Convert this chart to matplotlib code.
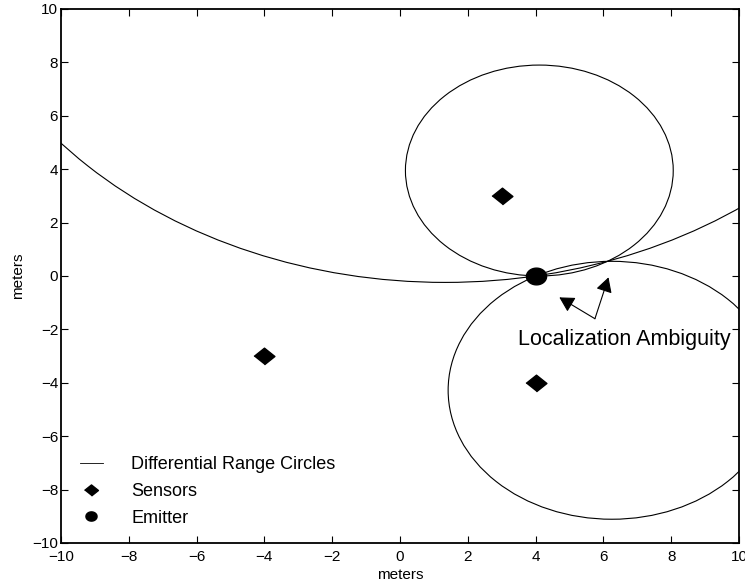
import numpy as np
import matplotlib
matplotlib.use("Agg")
import matplotlib.pyplot as plt
from matplotlib.patches import Circle
from matplotlib.lines import Line2D

plt.rcParams['font.family'] = ['Liberation Sans', 'DejaVu Sans']

# sensor and emitter positions (meters)
sensor_x = [3, -4, 4]
sensor_y = [3, -3, -4]
emitter_x = [4]
emitter_y = [0]

# differential range circles: centres and radii
circle_cx = [4.11, 6.25, 1.33]
circle_cy = [3.95, -4.28, 14.67]
circle_r = [3.95, 4.83, 14.91]

# ambiguity arrows: common tail, two heads
arrow_tail = (5.75, -1.6)
arrow_heads = [(4.7, -0.8), (6.15, -0.05)]
ambig_text = "Localization Ambiguity"
ambig_pos = (3.47, -2.6)

# flattened markers
diamond = [(-1, 0), (0, 0.8), (1, 0), (0, -0.8)]
t = np.linspace(0, 2 * np.pi, 60)
blob = list(zip(np.cos(t), 0.83 * np.sin(t)))

fig = plt.figure(figsize=(7.45, 5.87), dpi=100)
ax = fig.add_axes([61 / 745, 44 / 587, 678 / 745, 534 / 587])

for cx, cy, r in zip(circle_cx, circle_cy, circle_r):
    ax.add_patch(Circle((cx, cy), r, fill=False, color='k', lw=0.8))

ax.plot(sensor_x, sensor_y, ls='none', marker=diamond, ms=15, color='k')
ax.plot(emitter_x, emitter_y, ls='none', marker=blob, ms=14.5, color='k')

for hx, hy in arrow_heads:
    ax.annotate('', xy=(hx, hy), xytext=arrow_tail,
                arrowprops=dict(arrowstyle='-|>,head_length=0.45,head_width=0.25',
                                color='k', lw=0.8,
                                mutation_scale=20, shrinkA=0, shrinkB=0))
ax.text(ambig_pos[0], ambig_pos[1], ambig_text, fontsize=15.5, va='baseline')

ax.set_xlim(-10, 10)
ax.set_ylim(-10, 10)
ax.set_xticks(np.arange(-10, 11, 2))
ax.set_yticks(np.arange(-10, 11, 2))
ax.tick_params(direction='in', top=True, right=True, length=5, width=0.8,
               labelsize=11)
ax.tick_params(axis='y', pad=2)
ax.tick_params(axis='x', pad=5)
for s in ax.spines.values():
    s.set_linewidth(1.3)
ax.set_xlabel('meters', fontsize=11, labelpad=3)
ax.set_ylabel('meters', fontsize=11, labelpad=5)

handles = [
    Line2D([], [], color='k', lw=0.6),
    Line2D([], [], ls='none', marker=diamond, ms=10, color='k'),
    Line2D([], [], ls='none', marker=blob, ms=8, color='k'),
]
labels = ['Differential Range Circles', 'Sensors', 'Emitter']
ax.legend(handles, labels, loc='lower left', bbox_to_anchor=(0.004, 0.0),
          frameon=False, fontsize=13, handlelength=1.25, handletextpad=1.6,
          labelspacing=0.55)

fig.savefig('out.png', dpi=100)
